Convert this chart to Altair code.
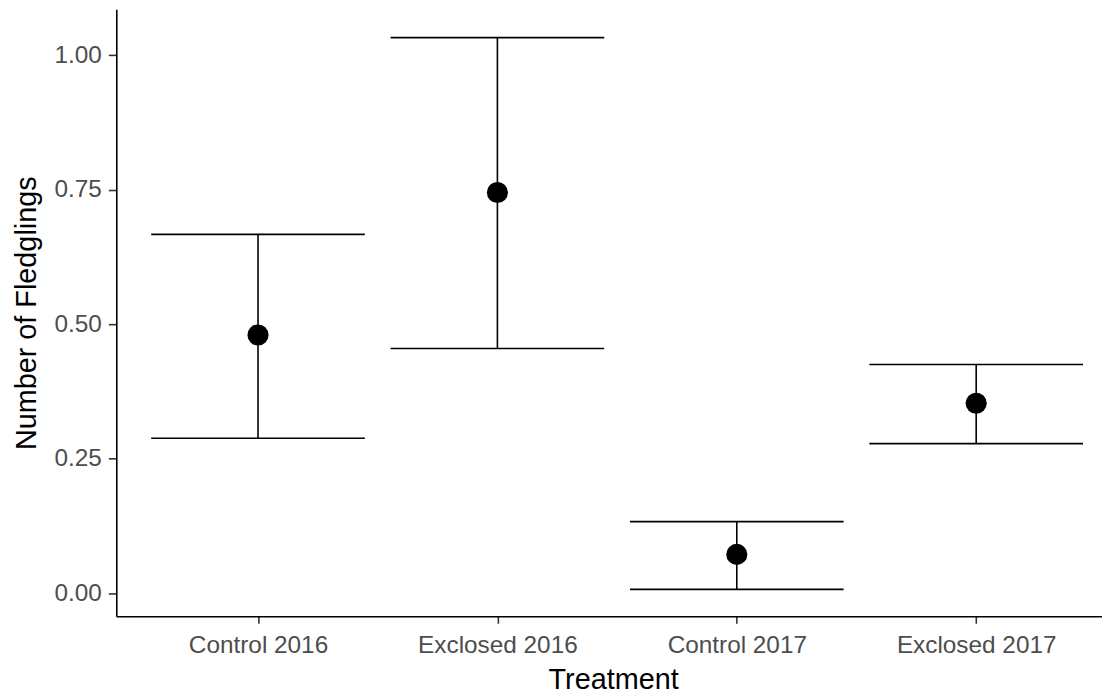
import altair as alt
import pandas as pd

treatment = ["Control 2016", "Exclosed 2016", "Control 2017", "Exclosed 2017"]
mean_fledglings = [0.480, 0.745, 0.072, 0.353]
lower_ci = [0.288, 0.455, 0.007, 0.278]
upper_ci = [0.667, 1.033, 0.133, 0.425]
y_ticks = [0.0, 0.25, 0.5, 0.75, 1.0]

df = pd.DataFrame({
    "Treatment": treatment,
    "mean": mean_fledglings,
    "lower": lower_ci,
    "upper": upper_ci,
})

FONT = "Liberation Sans"
LINE = 1.6

x_enc = alt.X(
    "Treatment:N",
    sort=treatment,
    scale=alt.Scale(type="point", padding=0.592),
    axis=alt.Axis(
        title="Treatment",
        labelAngle=0,
        labelFont=FONT,
        labelFontSize=24.5,
        labelColor="#4d4d4d",
        labelPadding=10,
        tickSize=7,
        tickWidth=LINE,
        tickColor="#333333",
        domainColor="#000000",
        domainWidth=LINE,
        titleFont=FONT,
        titleFontSize=29,
        titleFontWeight="normal",
        titleColor="#000000",
        titleBaseline="alphabetic",
        titleX=500,
        titleY=73,
        grid=False,
    ),
)

y_scale = alt.Scale(domain=[-0.0431, 1.0858], nice=False, zero=False)
y_axis = alt.Axis(
    title="Number of Fledglings",
    values=y_ticks,
    format=".2f",
    labelFont=FONT,
    labelFontSize=24.5,
    labelColor="#4d4d4d",
    labelPadding=7,
    tickSize=8,
    tickWidth=LINE,
    tickColor="#333333",
    domainColor="#000000",
    domainWidth=LINE,
    titleFont=FONT,
    titleFontSize=29,
    titleFontWeight="normal",
    titleColor="#000000",
    titleBaseline="alphabetic",
    titleX=-81,
    grid=False,
)

base = alt.Chart(df)

rule = base.mark_rule(color="#000000", strokeWidth=LINE).encode(
    x=x_enc,
    y=alt.Y("lower:Q", scale=y_scale, axis=y_axis),
    y2="upper:Q",
)

cap_low = base.mark_tick(color="#000000", thickness=LINE, size=215, orient="horizontal", opacity=1).encode(
    x=x_enc,
    y=alt.Y("lower:Q", scale=y_scale, axis=y_axis),
)
cap_high = base.mark_tick(color="#000000", thickness=LINE, size=215, orient="horizontal", opacity=1).encode(
    x=x_enc,
    y=alt.Y("upper:Q", scale=y_scale, axis=y_axis),
)

points = base.mark_circle(color="#000000", size=452, opacity=1).encode(
    x=x_enc,
    y=alt.Y("mean:Q", scale=y_scale, axis=y_axis),
)

chart = (
    alt.layer(rule, cap_low, cap_high, points)
    .properties(
        width=1008,
        height=611,
        autosize=alt.AutoSizeParams(type="none"),
        padding={"left": 109, "top": -1, "right": -16, "bottom": 76},
        background="#ffffff",
    )
    .configure_view(stroke=None)
)

chart.save("out.html", embed_options={"renderer": "svg", "actions": False})
